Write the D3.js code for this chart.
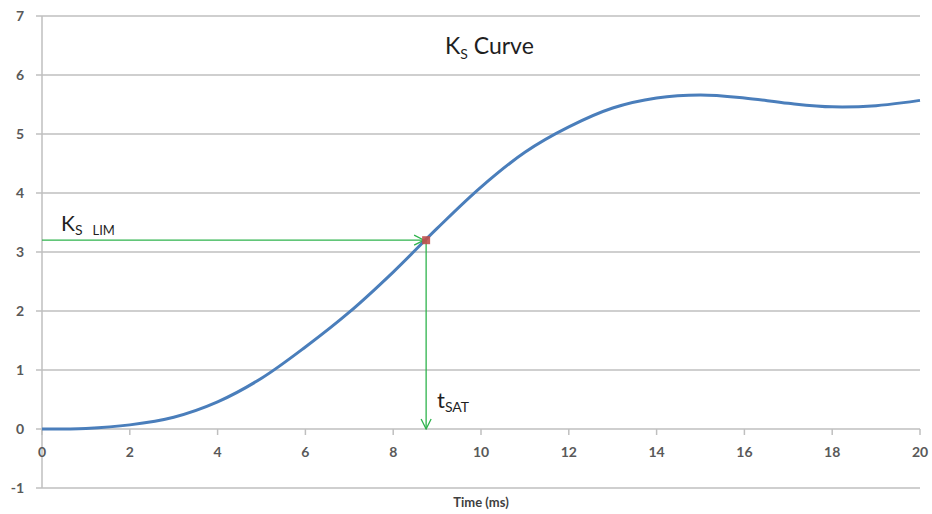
<!DOCTYPE html>
<html><head><meta charset="utf-8">
<script src="https://cdn.jsdelivr.net/npm/d3@7"></script>
<style>body{margin:0;background:#fff;} svg{display:block;font-family:Lato,"Open Sans",sans-serif;}</style>
</head><body>
<svg id="c" width="932" height="514"></svg>
<script>
const timeMs = [0,1,2,3,4,5,6,7,8,9,10,11,12,13,14,15,16,17,18,19,20];
const ksValues = [0,0.01,0.07,0.2,0.46,0.86,1.39,1.98,2.66,3.4,4.1,4.69,5.12,5.44,5.61,5.66,5.61,5.52,5.46,5.48,5.57];
const xTicks = [0,2,4,6,8,10,12,14,16,18,20];
const yTicks = [-1,0,1,2,3,4,5,6,7];
const ksLim = 3.2;
const tSat = 8.75;

const svg = d3.select("#c");
const x = d3.scaleLinear().domain([0,20]).range([42,920]);
const y = d3.scaleLinear().domain([-1,7]).range([488,16]);
const grid = "#bfbfbf", txt = "#595959";

svg.append("g").selectAll("line").data(yTicks).join("line")
  .attr("x1",36).attr("x2",920).attr("y1",d=>y(d)).attr("y2",d=>y(d))
  .attr("stroke",grid).attr("stroke-width",1.5);
svg.append("line").attr("x1",x(0)).attr("x2",x(0)).attr("y1",y(7)).attr("y2",y(-1))
  .attr("stroke",grid).attr("stroke-width",1.5);
svg.append("g").selectAll("text").data(yTicks).join("text")
  .attr("x",24).attr("y",d=>y(d)+5).attr("text-anchor","end")
  .attr("fill",txt).attr("font-size",14).attr("font-weight","bold").text(d=>d);
svg.append("g").selectAll("line").data(xTicks).join("line")
  .attr("x1",d=>x(d)).attr("x2",d=>x(d)).attr("y1",y(0)).attr("y2",y(0)+6)
  .attr("stroke",grid).attr("stroke-width",1.5);
svg.append("g").selectAll("text").data(xTicks).join("text")
  .attr("x",d=>x(d)).attr("y",y(0)+28).attr("text-anchor","middle")
  .attr("fill",txt).attr("font-size",14).attr("font-weight","bold").text(d=>d);
svg.append("text").attr("x",481).attr("y",507).attr("text-anchor","middle")
  .attr("fill","#404040").attr("font-size",13).attr("font-weight","bold").text("Time (ms)");

const line = d3.line().x((d,i)=>x(timeMs[i])).y(d=>y(d)).curve(d3.curveCatmullRom.alpha(0.5));
svg.append("path").datum(ksValues).attr("d",line).attr("fill","none")
  .attr("stroke","#4a7ebb").attr("stroke-width",3);

const green = "#2eb34c";
const defs = svg.append("defs");
defs.append("marker").attr("id","arr").attr("viewBox","0 0 12 12").attr("refX",11).attr("refY",6)
  .attr("markerWidth",12).attr("markerHeight",12).attr("markerUnits","userSpaceOnUse").attr("orient","auto")
  .append("path").attr("d","M1,1 L11,6 L1,11").attr("fill","none").attr("stroke",green).attr("stroke-width",1.3);
svg.append("line").attr("x1",x(0)).attr("x2",x(tSat)-2).attr("y1",y(ksLim)).attr("y2",y(ksLim))
  .attr("stroke",green).attr("stroke-width",1.3).attr("marker-end","url(#arr)");
svg.append("line").attr("x1",x(tSat)).attr("x2",x(tSat)).attr("y1",y(ksLim)).attr("y2",y(0))
  .attr("stroke",green).attr("stroke-width",1.3).attr("marker-end","url(#arr)");
svg.append("rect").attr("x",x(tSat)-4).attr("y",y(ksLim)-4).attr("width",8).attr("height",8)
  .attr("fill","#c0504d").attr("opacity",0.9);

const title = svg.append("text").attr("x",445).attr("y",54).attr("fill","#1f1f1f").attr("font-size",23);
title.append("tspan").text("K");
title.append("tspan").attr("font-size",14).attr("dy",5).text("S");
title.append("tspan").attr("dy",-5).text(" Curve");

const kl = svg.append("text").attr("x",61).attr("y",231).attr("fill","#1f1f1f").attr("font-size",21);
kl.append("tspan").text("K");
kl.append("tspan").attr("font-size",14).attr("dy",4).text("S");
kl.append("tspan").attr("font-size",13).attr("dx",10).text("LIM");

const ts = svg.append("text").attr("x",437).attr("y",408).attr("fill","#1f1f1f").attr("font-size",22);
ts.append("tspan").text("t");
ts.append("tspan").attr("font-size",14).attr("dy",4).text("SAT");
</script>
</body></html>
